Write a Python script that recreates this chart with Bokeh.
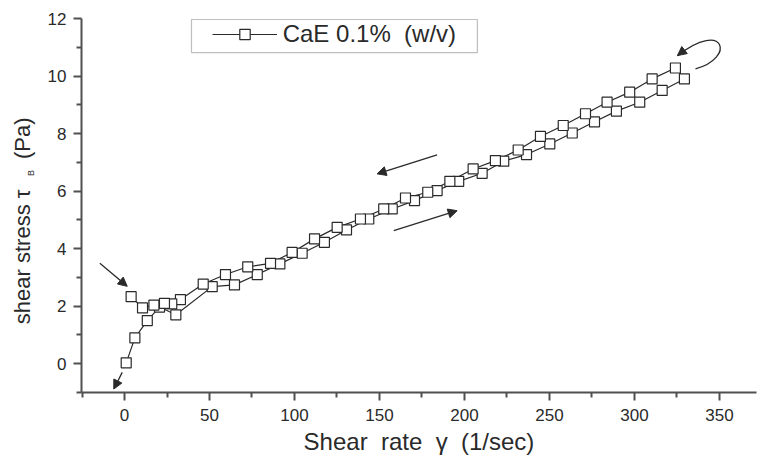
import math

from bokeh.embed import file_html
from bokeh.models import (Arrow, BoxAnnotation, FixedTicker, Legend,
                          LegendItem, LinearAxis, NormalHead, Range1d)
from bokeh.plotting import figure
from bokeh.resources import INLINE

# Hysteresis loop of a 0.1 % (w/v) CaE dispersion: ramp up, then ramp down.
up_rate = [1.0, 6.1, 13.4, 20.6, 30.2, 51.6, 64.7, 78.1, 91.4, 104.5, 117.6,
           130.6, 143.7, 157.5, 170.6, 183.9, 196.6, 210.4, 223.1, 236.5,
           250.2, 263.4, 276.5, 289.4, 303.1, 316.3, 329.4]
up_stress = [0.03, 0.90, 1.50, 1.97, 1.70, 2.68, 2.74, 3.10, 3.47, 3.84, 4.22,
             4.65, 5.03, 5.38, 5.67, 6.02, 6.34, 6.62, 7.04, 7.27,
             7.64, 8.02, 8.41, 8.78, 9.09, 9.50, 9.90]

down_rate = [324.1, 310.4, 297.2, 283.9, 271.2, 258.1, 244.7, 231.6, 218.2,
             205.1, 191.4, 178.4, 165.3, 152.5, 138.8, 125.1, 111.8, 98.6,
             85.9, 72.5, 59.4, 46.3, 32.9, 27.8, 23.5, 17.3, 10.6, 3.9]
down_stress = [10.28, 9.90, 9.44, 9.09, 8.69, 8.28, 7.90, 7.43, 7.06,
               6.77, 6.34, 5.96, 5.76, 5.38, 5.03, 4.74, 4.34, 3.87,
               3.49, 3.37, 3.10, 2.77, 2.23, 2.08, 2.10, 2.04, 1.94, 2.33]

x_ticks = [0, 50, 100, 150, 200, 250, 300, 350]
x_minor = [-25, 25, 75, 125, 175, 225, 275, 325, 375]
y_ticks = [0, 2, 4, 6, 8, 10, 12]
y_minor = [-1, 1, 3, 5, 7, 9, 11]

NB = "\u00a0"
series_label = "CaE 0.1%" + NB + " (w/v)"
x_title = "Shear" + NB + " rate" + NB + " \u03b3" + NB + " (1/sec)"
# y title: main text, and its subscript B set on a thin axis of its own;
# non-breaking spaces place each part along the axis.
y_title = "shear stress \u03c4" + NB * 5 + "(Pa)" + NB * 5
y_sub = NB * 26 + "B"

FONT = "Liberation Sans"
INK = "#2a2a2a"
AXIS = "#505050"

p = figure(width=757, height=459,
           x_range=Range1d(-25.3, 371.8), y_range=Range1d(-1, 12),
           output_backend="svg", toolbar_location=None,
           min_border_left=81, min_border_right=1,
           min_border_top=18, min_border_bottom=67)
p.xgrid.visible = False
p.ygrid.visible = False
p.outline_line_color = None
p.background_fill_color = "white"
p.border_fill_color = "white"

for ax, ticks, minor in ((p.xaxis[0], x_ticks, x_minor), (p.yaxis[0], y_ticks, y_minor)):
    ax.ticker = FixedTicker(ticks=ticks, minor_ticks=minor)
    ax.axis_line_color = AXIS
    ax.axis_line_width = 2
    ax.major_tick_line_color = AXIS
    ax.major_tick_line_width = 2
    ax.minor_tick_line_color = AXIS
    ax.minor_tick_line_width = 2
    ax.major_tick_in = 0
    ax.major_tick_out = 8
    ax.minor_tick_in = 0
    ax.minor_tick_out = 5
    ax.major_label_text_font = FONT
    ax.major_label_text_font_size = "17px"
    ax.major_label_text_color = INK
    ax.major_label_standoff = 7

p.xaxis.major_label_standoff = 8
p.xaxis.axis_label = x_title
p.xaxis.axis_label_text_font = FONT
p.xaxis.axis_label_text_font_size = "24px"
p.xaxis.axis_label_text_font_style = "normal"
p.xaxis.axis_label_text_color = INK
p.xaxis.axis_label_standoff = 4


def title_axis(text, size, standoff):
    ax = LinearAxis(ticker=FixedTicker(ticks=[]), axis_line_color=None,
                    major_tick_line_color=None, minor_tick_line_color=None,
                    major_tick_in=0, major_tick_out=0,
                    minor_tick_in=0, minor_tick_out=0,
                    major_label_standoff=0,
                    axis_label=text, axis_label_standoff=standoff,
                    axis_label_text_font=FONT,
                    axis_label_text_font_size=size,
                    axis_label_text_font_style="normal",
                    axis_label_text_color=INK)
    p.add_layout(ax, "left")


title_axis(y_sub, "9px", 9)
title_axis(y_title, "22px", -12)

# Ramp up followed by ramp down, drawn as one connected series.
rate = up_rate + down_rate
stress = up_stress + down_stress
ln = p.line(rate, stress, line_color=INK, line_width=1.2)
sc = p.scatter(rate, stress, marker="square", size=10, fill_color="white",
               line_color=INK, line_width=1.2)

legend = Legend(items=[LegendItem(label=series_label, renderers=[ln, sc])],
                location=(130.7, 344), padding=0, margin=0,
                border_line_alpha=0, background_fill_alpha=0,
                glyph_width=65, glyph_height=26, label_height=26,
                label_standoff=6, label_text_font=FONT,
                label_text_font_size="24px", label_text_color=INK)
p.add_layout(legend)
p.add_layout(BoxAnnotation(left=39.4, right=207.6, top=11.965, bottom=10.817,
                           fill_alpha=0, line_color=INK, line_width=1.2))


def arrow(x0, y0, x1, y1):
    p.add_layout(Arrow(end=NormalHead(size=9, fill_color=INK, line_color=INK,
                                      line_width=1),
                       x_start=x0, y_start=y0, x_end=x1, y_end=y1,
                       line_color=INK, line_width=1.3))


arrow(-14.5, 3.49, 1.6, 2.69)       # towards the end of the down ramp
arrow(-1.35, -0.30, -6.3, -0.88)    # back to rest
arrow(183.9, 7.26, 148.6, 6.60)     # decreasing shear rate
arrow(158.4, 4.63, 195.7, 5.32)     # increasing shear rate

# Turning point at the top of the loop.
p.bezier(x0=[335.9], y0=[10.25], cx0=[359.4], cy0=[10.61],
         cx1=[353.5], cy1=[12.0], x1=[325.3], y1=[10.71],
         line_color=INK, line_width=1.3)
arrow(328.1, 10.84, 325.3, 10.71)

open("out.html", "w").write(file_html(p, INLINE))
